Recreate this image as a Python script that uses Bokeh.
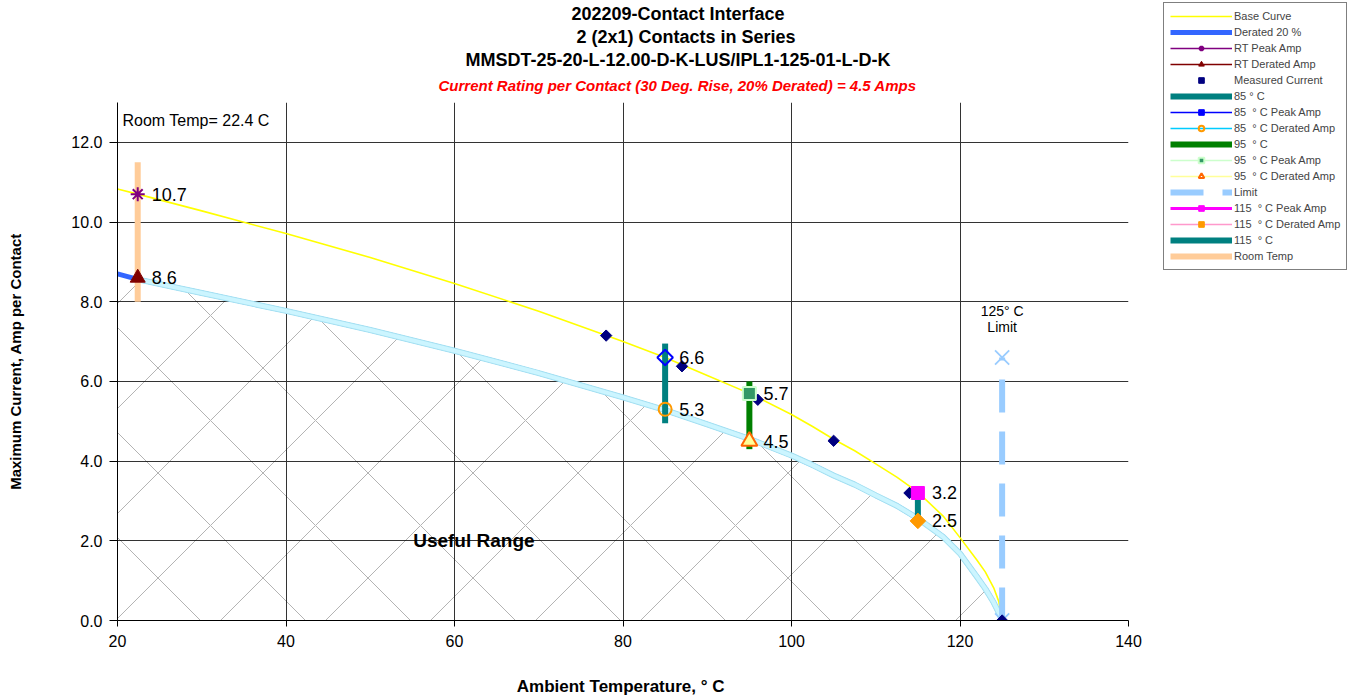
from bokeh.plotting import figure
from bokeh.layouts import row
from bokeh.models import (Range1d, FixedTicker, NumeralTickFormatter, Legend, LegendItem,
                          Label, Title, ColumnDataSource)
from bokeh.embed import file_html
from bokeh.resources import INLINE
from bokeh.core.properties import value

# ---------------- data ----------------
curve_temp = [20, 22.4, 30, 40, 50, 60, 70, 80, 85, 90, 95, 100, 102.5, 105, 107.5, 110, 112.5, 115,
              118, 120, 122, 123, 124, 124.6, 125]
base_amp = [10.83, 10.70, 10.28, 9.71, 9.11, 8.46, 7.76, 7.00, 6.60, 6.15, 5.70, 5.17, 4.87, 4.55, 4.26,
            3.93, 3.60, 3.22, 2.62, 2.08, 1.52, 1.22, 0.82, 0.48, 0.0]
derated_amp = [8.70, 8.56, 8.22, 7.77, 7.29, 6.77, 6.21, 5.60, 5.28, 4.92, 4.56, 4.14, 3.90, 3.64, 3.41,
               3.14, 2.88, 2.56, 2.10, 1.68, 1.10, 0.80, 0.45, 0.20, 0.0]

meas_temp = [78, 87, 96, 105, 114, 125]
meas_amp = [7.15, 6.38, 5.54, 4.51, 3.20, 0.0]

rt_temp = [22.4]
rt_peak = [10.7]
rt_derated = [8.6]
rt_bar = [8.0, 11.5]

test_temp = [85, 95, 115]
peak_amp = [6.6, 5.7, 3.2]
derated_test_amp = [5.3, 4.5, 2.5]
bar_low = [4.95, 4.3, 2.5]
bar_high = [6.95, 6.0, 3.3]

limit_temp = [125, 125]
limit_amp = [0.0, 6.6]

x_ticks = [20, 40, 60, 80, 100, 120, 140]
y_ticks = [0, 2, 4, 6, 8, 10, 12]

title_lines = ["202209-Contact Interface", "2 (2x1) Contacts in Series",
               "MMSDT-25-20-L-12.00-D-K-LUS/IPL1-125-01-L-D-K"]
subtitle = "Current Rating per Contact (30 Deg. Rise, 20% Derated)  = 4.5 Amps"

legend_labels = ["Base Curve", "Derated 20 %", "RT Peak Amp", "RT Derated Amp", "Measured Current",
                 "85 \u00b0 C", "85  \u00b0 C Peak Amp", "85  \u00b0 C Derated Amp", "95  \u00b0 C",
                 "95  \u00b0 C Peak Amp", "95  \u00b0 C Derated Amp", "Limit", "115  \u00b0 C Peak Amp",
                 "115  \u00b0 C Derated Amp", "115  \u00b0 C", "Room Temp"]

FONT = "Liberation Sans"

p = figure(width=1150, height=698, output_backend="svg", toolbar_location=None,
           x_range=Range1d(20, 140), y_range=Range1d(0, 13),
           min_border_left=117, min_border_right=22, min_border_top=102, min_border_bottom=78,
           title=None)
p.outline_line_color = None
p.background_fill_color = "white"
p.frame_align = False

# titles (last added goes on top); offsets place each centred near x=677
p.add_layout(Title(text=subtitle, align="left", offset=321, vertical_align="top", text_font=FONT,
                   text_font_size="15px", text_font_style="bold italic", text_color="#ff0000",
                   standoff=13), "above")
title_offsets = [454, 459, 348]
for t, off in reversed(list(zip(title_lines, title_offsets))):
    p.add_layout(Title(text=t, align="left", offset=off, text_font=FONT, text_font_size="18px",
                       text_font_style="bold", text_color="black", standoff=1), "above")

# axes
p.xaxis.ticker = FixedTicker(ticks=x_ticks)
p.yaxis.ticker = FixedTicker(ticks=y_ticks)
p.yaxis.formatter = NumeralTickFormatter(format="0.0")
for ax in (p.xaxis[0], p.yaxis[0]):
    ax.axis_line_color = "black"
    ax.major_tick_line_color = "black"
    ax.minor_tick_line_color = None
    ax.major_tick_in = 0
    ax.major_label_text_font = FONT
    ax.major_label_text_font_size = "16px"
    ax.major_label_text_color = "black"
    ax.axis_label_text_font = FONT
    ax.axis_label_text_font_style = "bold"
    ax.axis_label_text_color = "black"
p.xaxis.major_tick_out = 6
p.xaxis.major_label_standoff = 8
p.xaxis.axis_label = "Ambient Temperature,  \u00b0 C"
p.xaxis.axis_label_text_font_size = "17px"
p.xaxis.axis_label_standoff = 27
p.yaxis.major_tick_out = 8
p.yaxis.major_label_standoff = 7
p.yaxis.axis_label = "Maximum Current, Amp per Contact"
p.yaxis.axis_label_text_font_size = "15px"
p.yaxis.axis_label_standoff = 44

p.xgrid.ticker = FixedTicker(ticks=x_ticks)
p.ygrid.ticker = FixedTicker(ticks=y_ticks)
p.xgrid.grid_line_color = "#333333"
p.ygrid.grid_line_color = "#333333"

# hatched "useful range" area under the derated curve
p.patch(x=curve_temp + [curve_temp[0]], y=derated_amp + [0.0], fill_alpha=0, line_color=None,
        hatch_pattern="x", hatch_color="black", hatch_alpha=0.5, hatch_weight=0.6, hatch_scale=105)

# ---- styles shared by the plot and the legend ----
S = {
    "base": dict(line_color="#ffff00", line_width=1.6),
    "derated": dict(line_color="#3366ff", line_width=5),
    "bar85": dict(line_color="#008080", line_width=6),
    "bar95": dict(line_color="#008000", line_width=6),
    "bar115": dict(line_color="#008080", line_width=6),
    "room": dict(line_color="#ffcc99", line_width=6),
    "limit": dict(line_color="#99ccff", line_width=6, line_dash="33 19"),
    "meas": dict(marker="square", angle=0.785398, size=8, fill_color="#000080", line_color="#000080"),
    "rtpk": dict(marker="asterisk", size=14, line_color="#800080", line_width=2),
    "rtdr": dict(marker="triangle", size=15, fill_color="#800000", line_color="#800000"),
    "pk85": dict(marker="square", angle=0.785398, size=11, fill_color=None, line_color="#0000ff", line_width=2),
    "dr85": dict(marker="circle", size=13, fill_color=None, line_color="#ff9900", line_width=2),
    "pk95": dict(marker="square", size=13, fill_color="#339966", line_color="#ccffcc", line_width=2),
    "dr95": dict(marker="triangle", size=16, fill_color="#ffff99", line_color="#ff6600", line_width=2),
    "pk115": dict(marker="square", size=13, fill_color="#ff00ff", line_color="#ff00ff"),
    "dr115": dict(marker="square", angle=0.785398, size=11, fill_color="#ff9900", line_color="#ff9900"),
}

# curves
p.line(curve_temp, base_amp, **S["base"])
p.line(curve_temp, derated_amp, **S["derated"])
p.line(curve_temp[1:], derated_amp[1:], line_color="#a6e2f2", line_width=6)
p.line(curve_temp[1:], derated_amp[1:], line_color="#ccf5ff", line_width=4)

# vertical bars
p.segment(x0=rt_temp, y0=[rt_bar[0]], x1=rt_temp, y1=[rt_bar[1]], **S["room"])
for i, key in enumerate(["bar85", "bar95", "bar115"]):
    p.segment(x0=[test_temp[i]], y0=[bar_low[i]], x1=[test_temp[i]], y1=[bar_high[i]], **S[key])

# limit line
p.line(limit_temp, limit_amp, **S["limit"])
p.scatter(limit_temp, limit_amp, marker="x", size=20, line_color="#99ccff", line_width=1.8)

# measured points
p.scatter(meas_temp, meas_amp, **S["meas"])

# markers
p.scatter(rt_temp, rt_peak, **S["rtpk"])
p.scatter(rt_temp, rt_derated, **S["rtdr"])
for i, (pk, dr) in enumerate([("pk85", "dr85"), ("pk95", "dr95"), ("pk115", "dr115")]):
    p.scatter([test_temp[i]], [peak_amp[i]], **S[pk])
    p.scatter([test_temp[i]], [derated_test_amp[i]], **S[dr])

# value labels
lab_x = rt_temp + rt_temp + test_temp + test_temp
lab_y = rt_peak + rt_derated + peak_amp + derated_test_amp
lab_src = ColumnDataSource(dict(x=lab_x, y=lab_y, t=["%.1f" % v for v in lab_y]))
p.text(x="x", y="y", text="t", source=lab_src, x_offset=14, text_baseline="middle",
       text_font=value(FONT), text_font_size="18px", text_color="black")

p.add_layout(Label(x=20, y=12.55, x_offset=5, text="Room Temp= 22.4 C", text_font=FONT,
                   text_font_size="16px", text_baseline="middle", text_color="black"))
p.add_layout(Label(x=limit_temp[0], y=7.76, text="125\u00b0 C", text_font=FONT, text_font_size="14px",
                   text_align="center", text_baseline="middle", text_color="black"))
p.add_layout(Label(x=limit_temp[0], y=7.36, text="Limit", text_font=FONT, text_font_size="14px",
                   text_align="center", text_baseline="middle", text_color="black"))
p.add_layout(Label(x=62.3, y=2.0, text="Useful Range", text_font=FONT, text_font_size="19px",
                   text_font_style="bold", text_align="center", text_baseline="middle", text_color="black"))

# ---------------- legend panel (separate figure at the top right) ----------------
lg = figure(width=202, height=270, output_backend="svg", toolbar_location=None,
            x_axis_type=None, y_axis_type=None, x_range=Range1d(0, 1), y_range=Range1d(0, 1),
            min_border_left=12, min_border_right=0, min_border_top=1, min_border_bottom=0)
lg.outline_line_color = None
lg.grid.visible = False
lg.frame_align = False


# legend proxies: a single RT point, which lies outside this panel's ranges, so nothing is drawn
def L(**kw):
    return lg.line(x=rt_temp, y=rt_peak, **kw)


def M(**kw):
    return lg.scatter(x=rt_temp, y=rt_peak, **kw)


thin = 1.5
legend_renderers = [
    [L(**S["base"])],
    [L(**S["derated"])],
    [L(line_color="#800080", line_width=thin), M(marker="asterisk", size=9, line_color="#800080", line_width=2)],
    [L(line_color="#800000", line_width=thin), M(marker="triangle", size=10, fill_color="#800000", line_color="#800000")],
    [M(**dict(S["meas"], size=7))],
    [L(**S["bar85"])],
    [L(line_color="#0000ff", line_width=thin), M(marker="square", angle=0.785398, size=7, fill_color="#0000ff", line_color="#0000ff")],
    [L(line_color="#00ccff", line_width=thin), M(marker="circle", size=8, fill_color=None, line_color="#ff9900", line_width=2)],
    [L(**S["bar95"])],
    [L(line_color="#ccffcc", line_width=thin), M(marker="square", size=7, fill_color="#339966", line_color="#ccffcc", line_width=2)],
    [L(line_color="#ffff99", line_width=thin), M(marker="triangle", size=9, fill_color="white", line_color="#ff6600", line_width=2)],
    [L(**S["limit"])],
    [L(line_color="#ff00ff", line_width=3), M(marker="square", size=9, fill_color="#ff00ff", line_color="#ff00ff")],
    [L(line_color="#ff99cc", line_width=thin), M(marker="square", angle=0.785398, size=7, fill_color="#ff9900", line_color="#ff9900")],
    [L(**S["bar115"])],
    [L(**S["room"])],
]
items = [LegendItem(label=lab, renderers=r) for lab, r in zip(legend_labels, legend_renderers)]
legend = Legend(items=items, location="top_left", label_text_font=FONT, label_text_font_size="11px",
                glyph_width=62, glyph_height=14, label_height=14, spacing=2, padding=6, margin=1,
                label_standoff=2, border_line_color="black", border_line_width=1,
                background_fill_color="white", background_fill_alpha=1)
lg.add_layout(legend)

layout = row(p, lg)
open("out.html", "w").write(file_html(layout, INLINE))
